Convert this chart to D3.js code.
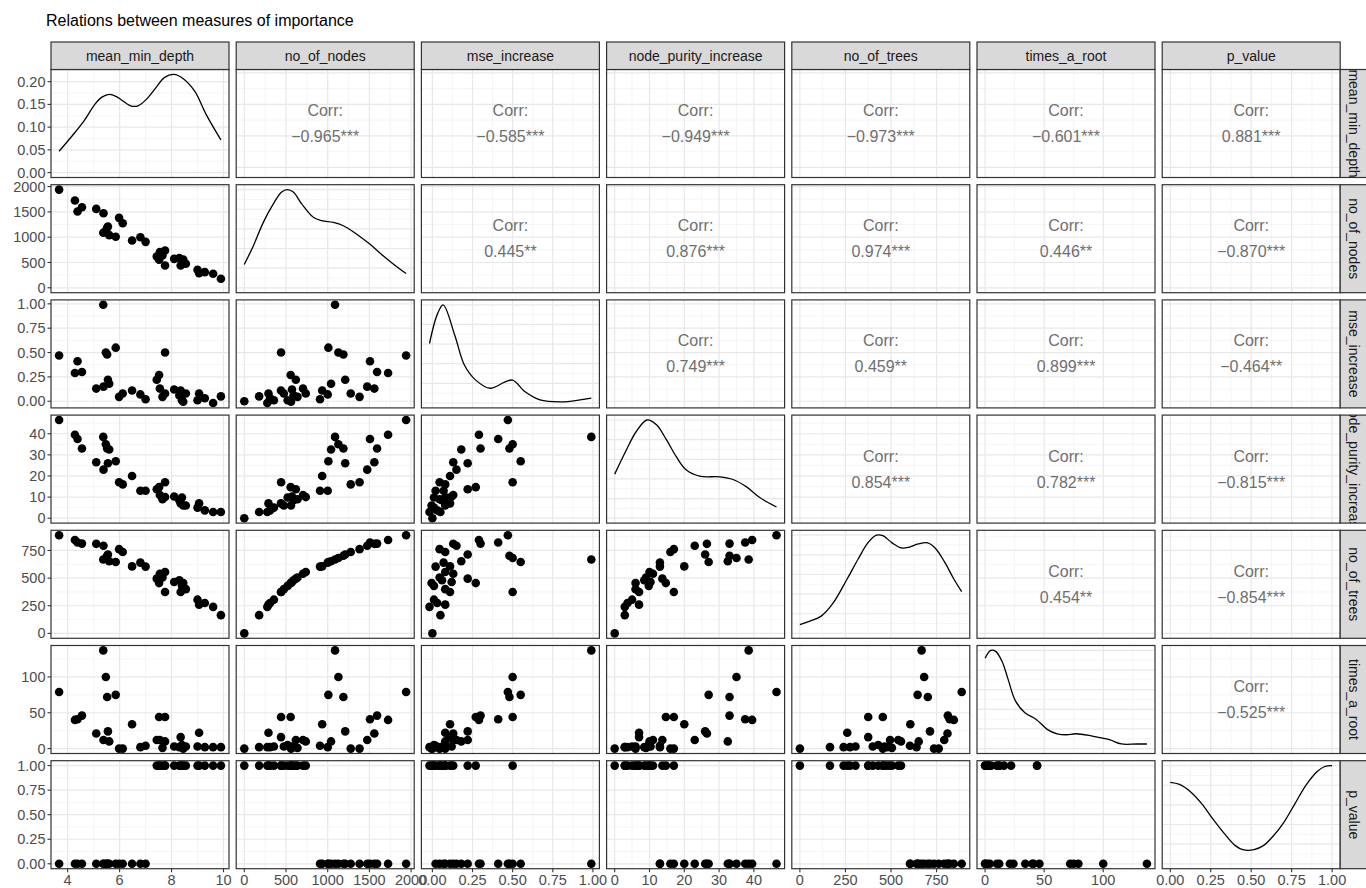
<!DOCTYPE html>
<meta charset="utf-8">
<script src="https://d3js.org/d3.v7.min.js"></script>
<style>
    body { margin: 0; background: #fff; }
    text { font-family: "Liberation Sans", Arial, sans-serif; }
</style>
<div id="vis"></div>
<script>
    // variable names (strip labels)
    var vars = ["mean_min_depth", "no_of_nodes", "mse_increase", "node_purity_increase",
        "no_of_trees", "times_a_root", "p_value"];

    // one value per variable (null = not available)
    var mean_min_depth = [3.67, 4.28, 4.38, 4.55, 5.10, 5.38, 5.37, 5.47, 5.52, 5.55, 5.60, 5.85, 5.98, 6.12, 6.48, 6.80, 7.00,
        7.43, 7.55, 7.65, 7.52, 7.75, 7.75, 8.10, 8.30, 8.40, 8.45, 8.35, 8.55, 9.00, 9.06, 9.28, 9.60, 9.90, null];
    var no_of_nodes = [1940, 1724, 1507, 1592, 1559, 1474, 1088, 1128, 1188, 1210, 1040, 1008, 1382, 1276, 934, 1000, 908,
        618, 704, 638, 556, 441, 737, 572, 590, 520, 560, 440, 474, 355, 290, 309, 276, 178, 0];
    var mse_increase = [0.47, 0.29, 0.41, 0.30, 0.13, 0.15, 0.99, 0.50, 0.48, 0.22, 0.18, 0.55, 0.045, 0.08, 0.11, 0.07, 0.02,
        0.22, 0.13, 0.045, 0.27, 0.50, 0.08, 0.12, 0.06, 0.01, -0.005, 0.11, 0.08, 0.01, 0.08, 0.03, -0.018, 0.05, 0.00];
    var node_purity_increase = [46.5, 39.5, 37.5, 33, 26.5, 23, 38.5, 35, 33, 26, 32.5, 27, 17, 16, 20, 13, 13,
        13.7, 11, 9, 14.7, 17, 10, 10.3, 8.5, 9.8, 6, 7, 6, 5, 7, 3.7, 2.9, 2.9, 0];
    var no_of_trees = [888, 845, 822, 812, 810, 792, 668, 682, 702, 714, 652, 646, 762, 736, 606, 640, 604,
        495, 540, 505, 455, 375, 555, 465, 480, 430, 455, 375, 400, 305, 260, 275, 240, 165, 0];
    var times_a_root = [79, 40, 41, 46, 21, 12, 137, 100, 72, 24, 10, 75, 0, 0, 34, 2, 4,
        12, 12, 1, 44, 44, 10, 3, 2, 5, 0, 16, 3, 3, 22, 2, 2, 2, 0];
    var p_value = [0, 0, 0, 0, 0, 0, 0, 0, 0, 0, 0, 0, 0, 0, 0, 0, 0,
        1, 1, 1, 1, 1, 1, 1, 1, 1, 1, 1, 1, 1, 1, 1, 1, 1, 1];

    // axis breaks
    var mmdTicks = [4, 6, 8, 10];
    var nodesTicks = [0, 500, 1000, 1500, 2000];
    var mseTicks = [0, 0.25, 0.5, 0.75, 1];
    var npTicks = [0, 10, 20, 30, 40];
    var treesTicks = [0, 250, 500, 750];
    var tarTicks = [0, 50, 100];
    var pTicks = [0, 0.25, 0.5, 0.75, 1];
    var densTicks = [0, 0.05, 0.10, 0.15, 0.20];

    // density curves (mmd in density units, others relative)
    var mmdDensX = [3.67, 4.16, 4.61, 5.06, 5.32, 5.61, 5.91, 6.42, 6.71, 7.01, 7.40, 7.72, 8.09, 8.44, 8.89, 9.34, 9.90];
    var mmdDensY = [0.047, 0.080, 0.112, 0.151, 0.166, 0.172, 0.166, 0.147, 0.147, 0.160, 0.187, 0.209, 0.216, 0.207, 0.179, 0.127, 0.072];
    var nodesDensX = [0, 108, 228, 348, 448, 516, 588, 688, 828, 928, 1068, 1188, 1348, 1508, 1668, 1828, 1940];
    var nodesDensY = [0.238, 0.426, 0.666, 0.855, 0.975, 1.0, 0.975, 0.855, 0.718, 0.683, 0.666, 0.632, 0.546, 0.443, 0.324, 0.214, 0.145];
    var mseDensX = [-0.018, 0.03, 0.067, 0.14, 0.20, 0.27, 0.36, 0.45, 0.50, 0.58, 0.67, 0.80, 0.92, 0.99];
    var mseDensY = [0.606, 0.90, 1.0, 0.687, 0.384, 0.233, 0.15, 0.212, 0.233, 0.111, 0.031, 0.011, 0.031, 0.05];
    var npDensX = [0, 3.35, 6.2, 9.3, 12.0, 14.9, 17.7, 20.6, 24.4, 30.2, 34.0, 37.9, 41.7, 46.5];
    var npDensY = [0.449, 0.695, 0.883, 1.0, 0.951, 0.797, 0.626, 0.49, 0.428, 0.421, 0.394, 0.319, 0.21, 0.114];
    var treesDensX = [0, 55, 117, 178, 260, 322, 373, 420, 455, 506, 557, 598, 650, 701, 742, 793, 844, 888];
    var treesDensY = [0.089, 0.124, 0.176, 0.297, 0.557, 0.765, 0.922, 1.0, 0.995, 0.922, 0.87, 0.877, 0.911, 0.922, 0.87, 0.731, 0.557, 0.425];
    var tarDensX = [0, 4.8, 9.0, 14.4, 19.3, 25.6, 33.7, 43.3, 52.9, 60.9, 68.9, 76.9, 89.8, 99.4, 105.8, 115.4, 128.2, 137];
    var tarDensY = [0.92, 1.0, 0.99, 0.887, 0.713, 0.488, 0.366, 0.297, 0.193, 0.151, 0.141, 0.151, 0.13, 0.106, 0.089, 0.047, 0.047, 0.047];
    var pDensX = [0, 0.057, 0.126, 0.195, 0.264, 0.333, 0.402, 0.448, 0.517, 0.575, 0.632, 0.701, 0.770, 0.839, 0.908, 0.954, 1.0];
    var pDensY = [0.829, 0.808, 0.732, 0.611, 0.455, 0.31, 0.185, 0.144, 0.144, 0.185, 0.275, 0.42, 0.611, 0.801, 0.939, 0.991, 1.0];

    // correlation labels, upper triangle [row, col, text]
    var corrRows = [0, 0, 0, 0, 0, 0, 1, 1, 1, 1, 1, 2, 2, 2, 2, 3, 3, 3, 4, 4, 5];
    var corrCols = [1, 2, 3, 4, 5, 6, 2, 3, 4, 5, 6, 3, 4, 5, 6, 4, 5, 6, 5, 6, 6];
    var corrText = ["\u22120.965***", "\u22120.585***", "\u22120.949***", "\u22120.973***", "\u22120.601***", "0.881***",
        "0.445**", "0.876***", "0.974***", "0.446**", "\u22120.870***",
        "0.749***", "0.459**", "0.899***", "\u22120.464**",
        "0.854***", "0.782***", "\u22120.815***",
        "0.454**", "\u22120.854***",
        "\u22120.525***"];

    var cols = [mean_min_depth, no_of_nodes, mse_increase, node_purity_increase, no_of_trees, times_a_root, p_value];
    var ticks = [mmdTicks, nodesTicks, mseTicks, npTicks, treesTicks, tarTicks, pTicks];
    var fmts = [d3.format("d"), d3.format("d"), d3.format(".2f"), d3.format("d"), d3.format("d"), d3.format("d"), d3.format(".2f")];
    var densX = [mmdDensX, nodesDensX, mseDensX, npDensX, treesDensX, tarDensX, pDensX];
    var densY = [mmdDensY, nodesDensY, mseDensY, npDensY, treesDensY, tarDensY, pDensY];

    // layout
    var W = 1366, H = 888;
    var x0 = 51, y0 = 69.5, pw = 178, ph = 108, gx = 7.2, gy = 7.2, stripH = 27.5;
    var n = vars.length;
    var axFont = "14.5px", stripFont = "14px", corrFont = "16px";
    function colX(j) { return x0 + j * (pw + gx); }
    function rowY(i) { return y0 + i * (ph + gy); }

    var svg = d3.select("#vis").append("svg")
        .attr("width", W).attr("height", H);

    // title
    svg.append("text")
        .attr("x", 46).attr("y", 26)
        .text("Relations between measures of importance")
        .style("font-size", "16px")
        .style("fill", "#000");

    // scales (5% expansion like ggplot)
    function expand(lo, hi) { var r = hi - lo; return [lo - 0.05 * r, hi + 0.05 * r]; }
    var xs = [], ys = [], dys = [];
    for (var k = 0; k < n; k++) {
        var vals = cols[k].filter(function (v) { return v !== null; });
        var dom = expand(d3.min(vals), d3.max(vals));
        xs.push(d3.scaleLinear().domain(dom).range([0, pw]));
        ys.push(d3.scaleLinear().domain(dom).range([ph, 0]));
        dys.push(d3.scaleLinear().domain(expand(0, d3.max(densY[k]))).range([ph, 0]));
    }

    function majors(tv, sc) {
        var d = sc.domain();
        return tv.filter(function (t) { return t >= d[0] && t <= d[1]; });
    }
    function minors(tv, sc) {
        var d = sc.domain(), step = tv[1] - tv[0], out = [];
        for (var q = 0; q < tv.length; q++) out.push(tv[q] - step / 2);
        out.push(tv[tv.length - 1] + step / 2);
        return out.filter(function (t) { return t >= d[0] && t <= d[1]; });
    }

    for (var i = 0; i < n; i++) {
        for (var j = 0; j < n; j++) {
            var g = svg.append("g").attr("transform", "translate(" + colX(j) + "," + rowY(i) + ")");
            var xsc = xs[j];
            var ysc = (i === j) ? dys[i] : ys[i];
            var yTicks = (i === j) ? (i === 0 ? densTicks : ysc.ticks(5)) : ticks[i];

            g.append("rect").attr("width", pw).attr("height", ph).attr("fill", "#fff");

            // minor grid
            var gm = g.append("g").attr("stroke", "#f0f0f0").attr("stroke-width", 0.7);
            minors(ticks[j], xsc).forEach(function (t) {
                gm.append("line").attr("x1", xsc(t)).attr("x2", xsc(t)).attr("y1", 0).attr("y2", ph);
            });
            minors(yTicks, ysc).forEach(function (t) {
                gm.append("line").attr("y1", ysc(t)).attr("y2", ysc(t)).attr("x1", 0).attr("x2", pw);
            });
            // major grid
            var gM = g.append("g").attr("stroke", "#e8e8e8").attr("stroke-width", 1.2);
            majors(ticks[j], xsc).forEach(function (t) {
                gM.append("line").attr("x1", xsc(t)).attr("x2", xsc(t)).attr("y1", 0).attr("y2", ph);
            });
            majors(yTicks, ysc).forEach(function (t) {
                gM.append("line").attr("y1", ysc(t)).attr("y2", ysc(t)).attr("x1", 0).attr("x2", pw);
            });

            if (i > j) {
                // scatter
                var pts = [];
                for (var r = 0; r < cols[j].length; r++) {
                    if (cols[j][r] !== null && cols[i][r] !== null) pts.push([cols[j][r], cols[i][r]]);
                }
                g.append("g").selectAll("circle")
                    .data(pts)
                    .enter()
                    .append("circle")
                    .attr("cx", function (d) { return xsc(d[0]); })
                    .attr("cy", function (d) { return ysc(d[1]); })
                    .attr("r", 4.3)
                    .attr("fill", "#000");
            } else if (i === j) {
                var dd = densX[i].map(function (v, q) { return [v, densY[i][q]]; });
                var line = d3.line()
                    .x(function (d) { return xsc(d[0]); })
                    .y(function (d) { return ysc(d[1]); })
                    .curve(d3.curveCatmullRom);
                g.append("path").datum(dd)
                    .attr("d", line)
                    .attr("fill", "none")
                    .attr("stroke", "#000")
                    .attr("stroke-width", 1.3);
            }

            g.append("rect").attr("width", pw).attr("height", ph)
                .attr("fill", "none").attr("stroke", "#333").attr("stroke-width", 1.2);
        }
    }

    // correlation text
    corrText.forEach(function (t, q) {
        var cx = colX(corrCols[q]) + pw / 2, cy = rowY(corrRows[q]) + ph / 2;
        svg.append("text").attr("x", cx).attr("y", cy - 7.5)
            .attr("text-anchor", "middle")
            .style("font-size", corrFont).style("fill", "#6f6f6f")
            .text("Corr:");
        svg.append("text").attr("x", cx).attr("y", cy + 18.5)
            .attr("text-anchor", "middle")
            .style("font-size", corrFont).style("fill", "#6f6f6f")
            .text(t);
    });

    // top strips
    vars.forEach(function (v, j) {
        svg.append("rect").attr("x", colX(j)).attr("y", y0 - stripH)
            .attr("width", pw).attr("height", stripH)
            .attr("fill", "#d9d9d9").attr("stroke", "#333").attr("stroke-width", 1.2);
        svg.append("text").attr("x", colX(j) + pw / 2).attr("y", y0 - stripH / 2)
            .attr("dy", "0.35em").attr("text-anchor", "middle")
            .style("font-size", stripFont).style("fill", "#1a1a1a")
            .text(v);
    });

    // right strips (text clipped to the strip)
    var sx = x0 + n * pw + (n - 1) * gx;
    vars.forEach(function (v, i) {
        svg.append("clipPath").attr("id", "clip" + i)
            .append("rect").attr("x", sx).attr("y", rowY(i)).attr("width", stripH).attr("height", ph);
        svg.append("rect").attr("x", sx).attr("y", rowY(i))
            .attr("width", stripH).attr("height", ph)
            .attr("fill", "#d9d9d9").attr("stroke", "#333").attr("stroke-width", 1.2);
        svg.append("g").attr("clip-path", "url(#clip" + i + ")")
            .append("text")
            .attr("transform", "translate(" + (sx + stripH / 2) + "," + (rowY(i) + ph / 2) + ") rotate(90)")
            .attr("dy", "0.35em").attr("text-anchor", "middle")
            .style("font-size", stripFont).style("fill", "#1a1a1a")
            .text(v);
    });

    // left axes
    for (var i2 = 0; i2 < n; i2++) {
        var ysc2 = i2 === 0 ? dys[0] : ys[i2];
        var tv = i2 === 0 ? densTicks : ticks[i2];
        var fm = i2 === 0 ? d3.format(".2f") : fmts[i2];
        var ga = svg.append("g").attr("transform", "translate(" + x0 + "," + rowY(i2) + ")");
        majors(tv, ysc2).forEach(function (t) {
            ga.append("line").attr("x1", -3.5).attr("x2", 0)
                .attr("y1", ysc2(t)).attr("y2", ysc2(t))
                .attr("stroke", "#333").attr("stroke-width", 1.1);
            ga.append("text").attr("x", -5.5).attr("y", ysc2(t))
                .attr("dy", "0.35em").attr("text-anchor", "end")
                .style("font-size", axFont).style("fill", "#4d4d4d")
                .text(fm(t));
        });
    }

    // bottom axes
    var yb = rowY(n - 1) + ph;
    for (var j2 = 0; j2 < n; j2++) {
        var gb = svg.append("g").attr("transform", "translate(" + colX(j2) + "," + yb + ")");
        (function (jj) {
            majors(ticks[jj], xs[jj]).forEach(function (t) {
                gb.append("line").attr("x1", xs[jj](t)).attr("x2", xs[jj](t))
                    .attr("y1", 0).attr("y2", 3.5)
                    .attr("stroke", "#333").attr("stroke-width", 1.1);
                gb.append("text").attr("x", xs[jj](t)).attr("y", 16.5)
                    .attr("text-anchor", "middle")
                    .style("font-size", axFont).style("fill", "#4d4d4d")
                    .text(fmts[jj](t));
            });
        })(j2);
    }
</script>
